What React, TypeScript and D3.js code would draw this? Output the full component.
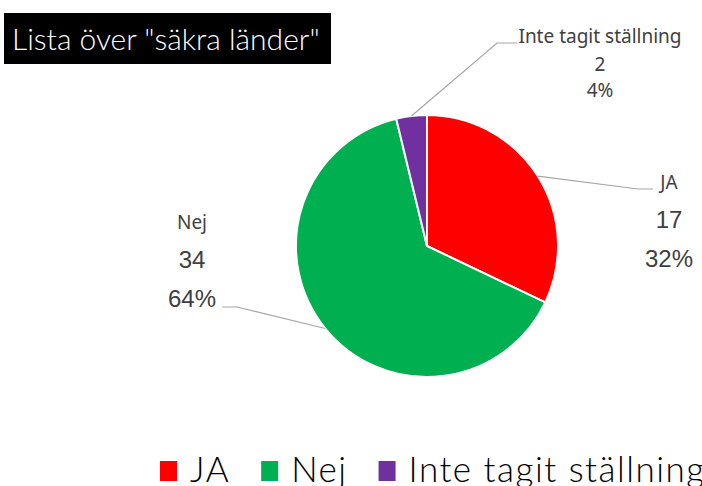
import React, { useEffect, useRef } from "react";
import * as d3 from "d3";

// chart data
const categories = ["JA", "Nej", "Inte tagit ställning"];
const counts = [17, 34, 2];
const percents = ["32%", "64%", "4%"];
const colors = ["#FF0000", "#00B050", "#7030A0"];
const title = 'Lista över "säkra länder"';

const width = 702;
const height = 486;

const thinFont = "'Lato Light', 'Lato', sans-serif";

// where each data label sits (center x, first baseline) and its leader elbow
const labelLayout = [
  { x: 669, y: 189, gap: [39, 39], elbow: [[653, 189], [638, 189]], nameFont: "'Noto Sans', sans-serif", nameSize: 19, numFont: "'Liberation Sans', Arial, sans-serif", numSize: 24 },
  { x: 192, y: 229, gap: [39, 39], elbow: [[222, 307], [237, 307]], nameFont: "'Noto Sans', sans-serif", nameSize: 19, numFont: "'Liberation Sans', Arial, sans-serif", numSize: 24 },
  { x: 600, y: 43, gap: [28, 26], elbow: [[517, 43], [497, 43]], nameFont: "'Noto Sans', sans-serif", nameSize: 19, numFont: "'Noto Sans', sans-serif", numSize: 19 },
];

export default function App() {
  const svgRef = useRef<SVGSVGElement>(null);

  useEffect(() => {
    const svg = d3.select(svgRef.current);
    svg.selectAll("*").remove();

    // title box
    const tg = svg.append("g");
    tg.append("rect")
      .attr("x", 4).attr("y", 13).attr("width", 327).attr("height", 51)
      .attr("fill", "#000");
    tg.append("text")
      .attr("x", 12).attr("y", 50)
      .attr("fill", "#fff")
      .style("font-family", thinFont)
      .style("font-weight", 300)
      .style("font-size", "30px")
      .text(title);

    // pie
    const cx = 427, cy = 246, r = 131;
    const pie = d3.pie<number>().sort(null).value(d => d);
    const arcs = pie(counts);
    const arc = d3.arc<d3.PieArcDatum<number>>().innerRadius(0).outerRadius(r);
    const edgeArc = d3.arc<d3.PieArcDatum<number>>().innerRadius(r).outerRadius(r);

    const g = svg.append("g").attr("transform", `translate(${cx},${cy})`);
    g.selectAll("path.slice")
      .data(arcs)
      .join("path")
      .attr("class", "slice")
      .attr("d", arc)
      .attr("fill", (_, i) => colors[i])
      .attr("stroke", "#fff")
      .attr("stroke-width", 2)
      .attr("stroke-linejoin", "round");

    // leader lines
    arcs.forEach((a, i) => {
      const [ex, ey] = edgeArc.centroid(a);
      const L = labelLayout[i];
      const pts: [number, number][] = [L.elbow[0] as [number, number], L.elbow[1] as [number, number], [ex + cx, ey + cy]];
      svg.append("path")
        .attr("d", d3.line()(pts))
        .attr("fill", "none")
        .attr("stroke", "#A6A6A6")
        .attr("stroke-width", 1.2);
    });

    // data labels
    categories.forEach((c, i) => {
      const L = labelLayout[i];
      const lines = [c, String(counts[i]), percents[i]];
      let y = L.y;
      lines.forEach((t, j) => {
        svg.append("text")
          .attr("x", L.x).attr("y", y)
          .attr("text-anchor", "middle")
          .attr("fill", "#404040")
          .style("font-family", j === 0 ? L.nameFont : L.numFont)
          .style("font-size", `${j === 0 ? L.nameSize : L.numSize}px`)
          .text(t);
        if (j < 2) y += L.gap[j];
      });
    });

    // legend
    const lg = svg.append("g");
    let lx = 160;
    categories.forEach((c, i) => {
      lg.append("rect")
        .attr("x", lx).attr("y", 461).attr("width", 17).attr("height", 20)
        .attr("fill", colors[i]);
      const t = lg.append("text")
        .attr("x", lx + 30).attr("y", 482)
        .attr("fill", "#000")
        .style("font-family", thinFont)
        .style("font-weight", 300)
        .style("font-size", "35px")
        .style("letter-spacing", "1.5px")
        .text(c);
      const w = (t.node() as SVGTextElement).getComputedTextLength();
      lx = lx + 30 + w + 31;
    });
  }, []);

  return (
    <svg
      ref={svgRef}
      width={width}
      height={height}
      style={{ position: "absolute", left: 0, top: 0, background: "#fff" }}
    />
  );
}
